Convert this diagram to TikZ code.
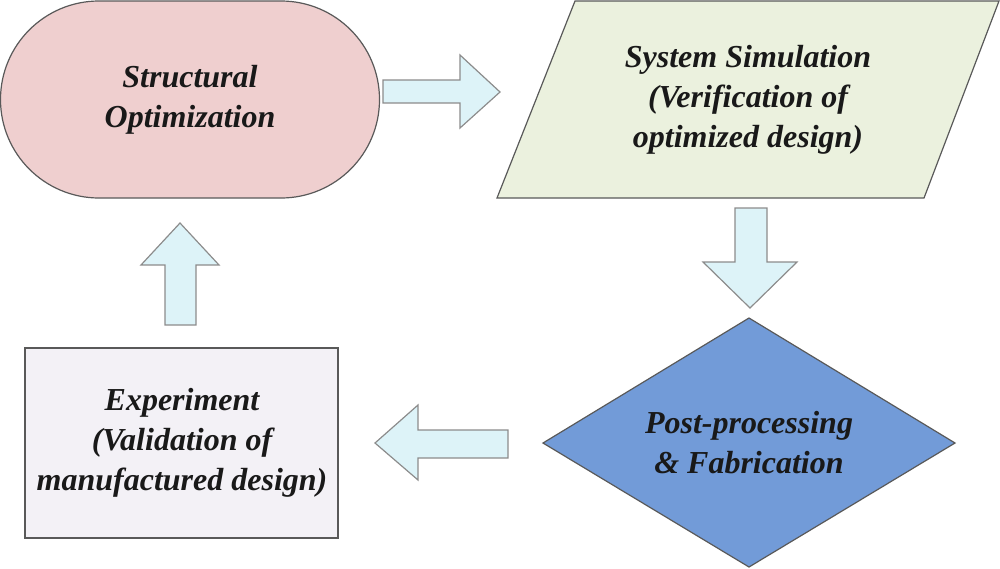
\documentclass[tikz,border=0pt]{standalone}
\usepackage{fontspec}
\setmainfont{Liberation Serif}
\begin{document}
\begin{tikzpicture}[x=0.5pt,y=-0.5pt,
  shp/.style={draw=black!65,line width=0.6pt},
  blk/.style={draw=black!45,fill=arrowc,line width=0.6pt},
  txt/.style={font=\fontsize{16}{20}\selectfont\bfseries\itshape,align=center,text=black!90}]
\definecolor{pinkc}{HTML}{EFCFCF}
\definecolor{greenc}{HTML}{EBF1DE}
\definecolor{bluec}{HTML}{729BD8}
\definecolor{lavc}{HTML}{F3F1F6}
\definecolor{arrowc}{HTML}{DDF3F8}
\useasboundingbox (0,0) rectangle (1000,568);
% stadium
\draw[shp,fill=pinkc] (99,1) -- (281,1) arc[start angle=-90,end angle=90,radius=98.5] -- (99,198) arc[start angle=90,end angle=270,radius=98.5] -- cycle;
\node[txt] (so) at (190,100) {Structural\\Optimization};
% parallelogram
\draw[shp,fill=greenc] (575,1) -- (999,1) -- (924,198) -- (497,198) -- cycle;
\node[txt] (ss) at (748,100) {System Simulation\\(Verification of\\optimized design)};
% diamond
\draw[shp,fill=bluec] (749,318) -- (955,443) -- (749,567) -- (543,443) -- cycle;
\node[txt] (pp) at (749,443) {Post-processing\\\& Fabrication};
% rectangle
\draw[shp,fill=lavc] (25,348) rectangle (338,538);
\node[txt] (ex) at (182,443) {Experiment\\(Validation of\\manufactured design)};
% block arrows
\draw[blk] (383,80) -- (460,80) -- (460,55) -- (500,92) -- (460,128) -- (460,103) -- (383,103) -- cycle;
\draw[blk] (735,208) -- (767,208) -- (767,262) -- (797,262) -- (750,308) -- (703,262) -- (735,262) -- cycle;
\draw[blk] (508,430) -- (418,430) -- (418,405) -- (375,443) -- (418,480) -- (418,458) -- (508,458) -- cycle;
\draw[blk] (165,325) -- (165,265) -- (141,265) -- (180,223) -- (219,265) -- (196,265) -- (196,325) -- cycle;
\end{tikzpicture}
\end{document}
